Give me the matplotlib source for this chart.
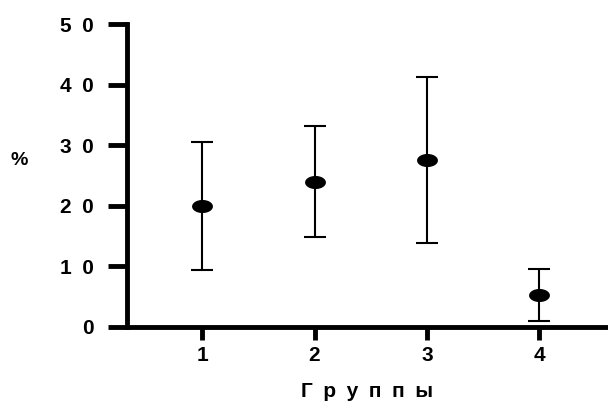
import numpy as np
import matplotlib
matplotlib.use("Agg")
from matplotlib import pyplot as plt

# group means and their error half-widths (%)
groups = [1, 2, 3, 4]
means = [20.0, 24.0, 27.6, 5.2]
errors = [10.6, 9.2, 13.7, 4.3]

y_ticks = [0, 10, 20, 30, 40, 50]
y_labels = ["0", "1\u20020", "2\u20020", "3\u20020", "4\u20020", "5\u20020"]
x_title = "\u2002".join("Группы")

plt.rcParams['font.family'] = ['Liberation Sans Narrow', 'Liberation Sans', 'DejaVu Sans']
plt.rcParams['font.weight'] = 'bold'

# flattened ellipse marker
t = np.linspace(0, 2*np.pi, 60)
ellipse = list(zip(np.cos(t), 0.6*np.sin(t)))

fig = plt.figure(figsize=(6.08, 4.03), dpi=100)
ax = fig.add_axes([0.209, 0.189, 0.791, 0.751])

ax.errorbar(groups, means, yerr=errors, fmt='none', ecolor='black',
            elinewidth=1.5, capsize=8, capthick=1.5)
ax.plot(groups, means, linestyle='none', marker=ellipse, markersize=14,
        color='black')

ax.set_xlim(0.333, 4.61)
ax.set_ylim(0, 50)
ax.set_xticks(groups)
ax.set_xticklabels([str(g) for g in groups])
ax.set_yticks(y_ticks)
ax.set_yticklabels(y_labels)

for side in ['top', 'right']:
    ax.spines[side].set_visible(False)
for side in ['left', 'bottom']:
    ax.spines[side].set_linewidth(3.5)
ax.spines['left'].set_capstyle('projecting')

ax.tick_params(axis='y', length=14, width=3.5, pad=10, labelsize=15)
ax.tick_params(axis='x', length=9, width=3.5, pad=5, labelsize=15)

ax.set_xlabel(x_title, fontsize=15, fontweight='bold', labelpad=12)
ax.set_ylabel("%", fontsize=14, fontweight='bold', rotation=0, labelpad=0)
ax.yaxis.set_label_coords(-0.225, 0.52)

fig.savefig("out.png", dpi=100)
